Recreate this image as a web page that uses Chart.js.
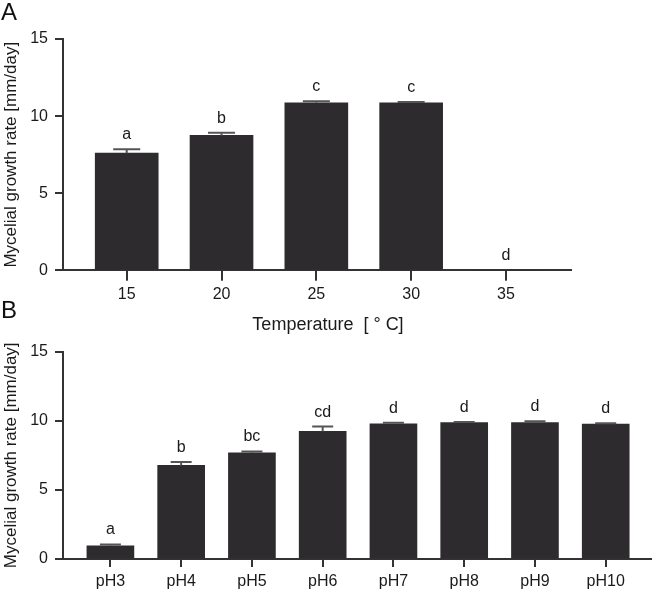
<!DOCTYPE html>
<html>
<head>
<meta charset="utf-8">
<script src="https://cdn.jsdelivr.net/npm/chart.js@4.4.1/dist/chart.umd.min.js"></script>
<style>
  body { margin: 0; background: #fff; }
  #wrap { position: relative; width: 656px; height: 594px; }
  canvas { position: absolute; left: 0; }
  .panel { position: absolute; left: 1px; font: 24px/24px 'Liberation Sans', Arial, sans-serif; color: #111; }
</style>
</head>
<body>
<div id="wrap">
  <canvas id="chart-temp" width="656" height="338" style="top:0"></canvas>
  <canvas id="chart-ph" width="656" height="259" style="top:335px"></canvas>
  <div class="panel" style="top:0">A</div>
  <div class="panel" style="top:298px">B</div>
</div>
<script>
// panel A: temperature
const temps = [15, 20, 25, 30, 35]
const tempRate = [7.6, 8.75, 10.87, 10.87, 0]
const tempErr = [0.26, 0.17, 0.1, 0.05, 0]
const tempLetters = ['a', 'b', 'c', 'c', 'd']

// panel B: pH
const phLabels = ['pH3', 'pH4', 'pH5', 'pH6', 'pH7', 'pH8', 'pH9', 'pH10']
const phRate = [0.95, 6.77, 7.68, 9.23, 9.78, 9.87, 9.87, 9.75]
const phErr = [0.1, 0.24, 0.1, 0.35, 0.07, 0.03, 0.09, 0.07]
const phLetters = ['a', 'b', 'bc', 'cd', 'd', 'd', 'd', 'd']

const yTicks = [0, 5, 10, 15]

const FONT = "'Liberation Sans', Arial, sans-serif"
const INK = '#1a1a1a'
const AXIS = '#333'
const BAR = '#2e2b2e'

// upper error bars and letters above the bars, then the x tick marks
const errorBars = {
  id: 'errorBars',
  afterDatasetsDraw(chart, args, opts) {
    const { ctx } = chart
    const xs = chart.scales.x
    const ys = chart.scales.y
    const pts = chart.data.datasets[0].data
    ctx.save()
    ctx.strokeStyle = '#555'
    ctx.lineWidth = 2
    ctx.fillStyle = INK
    ctx.font = '16px ' + FONT
    ctx.textAlign = 'center'
    ctx.textBaseline = 'alphabetic'
    pts.forEach((p, i) => {
      const x = xs.getPixelForValue(p.x)
      const yBar = ys.getPixelForValue(p.y)
      const yTop = ys.getPixelForValue(p.y + opts.err[i])
      if (opts.err[i] > 0) {
        ctx.beginPath()
        ctx.moveTo(x, yBar)
        ctx.lineTo(x, yTop)
        ctx.moveTo(x - opts.cap, yTop)
        ctx.lineTo(x + opts.cap, yTop)
        ctx.stroke()
      }
      ctx.fillText(opts.letters[i], x, yTop - 10)
    })
    ctx.restore()
  },
  afterDraw(chart, args, opts) {
    const { ctx, chartArea } = chart
    const xs = chart.scales.x
    ctx.save()
    ctx.fillStyle = AXIS
    opts.xValues.forEach((v) => {
      const x = Math.round(xs.getPixelForValue(v))
      ctx.fillRect(x - 1, chartArea.bottom, 2, opts.tick)
    })
    ctx.restore()
  }
}

function makeChart(id, cfg) {
  const scales = {
    x: {
      type: 'linear',
      offset: false,
      min: cfg.xMin,
      max: cfg.xMax,
      afterBuildTicks: (s) => { s.ticks = cfg.xTicks.map((v) => ({ value: v })) },
      afterFit: (s) => { s.height = cfg.xHeight },
      border: { display: true, color: AXIS, width: 2 },
      grid: { offset: false, drawOnChartArea: false, color: AXIS, lineWidth: 2, tickLength: cfg.xTick },
      ticks: {
        color: INK,
        font: { family: FONT, size: 16 },
        padding: cfg.xPad,
        maxRotation: 0,
        autoSkip: false,
        callback: cfg.xLabel
      }
    },
    y: {
      min: 0,
      max: 15,
      afterBuildTicks: (s) => { s.ticks = yTicks.map((v) => ({ value: v })) },
      afterFit: (s) => { s.width = 63 },
      border: { display: true, color: AXIS, width: 2 },
      grid: { drawOnChartArea: false, color: AXIS, lineWidth: 2, tickLength: 8 },
      ticks: { color: INK, font: { family: FONT, size: 16 }, padding: 7 },
      title: {
        display: true,
        text: 'Mycelial growth rate [mm/day]',
        color: INK,
        font: { family: FONT, size: 17 },
        padding: { top: 1, bottom: 0 }
      }
    }
  }
  // empty right-hand spacer so the full-width title stays centred on the page
  if (cfg.rightGap) {
    scales.gap = {
      type: 'linear',
      position: 'right',
      afterFit: (s) => { s.width = cfg.rightGap },
      border: { display: false },
      grid: { display: false },
      ticks: { display: false }
    }
  }
  return new Chart(document.getElementById(id), {
    type: 'bar',
    data: {
      datasets: [{
        data: cfg.points,
        backgroundColor: BAR,
        borderWidth: 0,
        barThickness: cfg.barWidth
      }]
    },
    options: {
      responsive: false,
      animation: false,
      layout: { padding: cfg.padding },
      plugins: {
        legend: { display: false },
        tooltip: { enabled: false },
        title: cfg.title,
        errorBars: { err: cfg.err, letters: cfg.letters, cap: cfg.cap, tick: cfg.xTick, xValues: cfg.xTicks }
      },
      scales
    },
    plugins: [errorBars]
  })
}

makeChart('chart-temp', {
  points: temps.map((t, i) => ({ x: t, y: tempRate[i] })),
  err: tempErr,
  letters: tempLetters,
  barWidth: 63,
  cap: 13.5,
  xMin: 11.64,
  xMax: 38.43,
  xTicks: temps,
  xLabel: (v) => v,
  xHeight: 44,
  xTick: 10,
  xPad: 5,
  rightGap: 85,
  padding: { top: 39, right: 0, bottom: 0, left: 0 },
  title: {
    display: true,
    position: 'bottom',
    text: 'Temperature  [ ° C]',
    color: INK,
    font: { family: FONT, size: 18, weight: 'normal' },
    padding: { top: 0, bottom: 2 }
  }
})

makeChart('chart-ph', {
  points: phLabels.map((l, i) => ({ x: i, y: phRate[i] })),
  err: phErr,
  letters: phLetters,
  barWidth: 47,
  cap: 10.5,
  xMin: -0.67,
  xMax: 7.64,
  xTicks: phLabels.map((l, i) => i),
  xLabel: (v) => phLabels[v],
  xHeight: 35,
  xTick: 8,
  xPad: 5,
  padding: { top: 14, right: 5, bottom: 0, left: 0 },
  title: { display: false }
})
</script>
</body>
</html>
